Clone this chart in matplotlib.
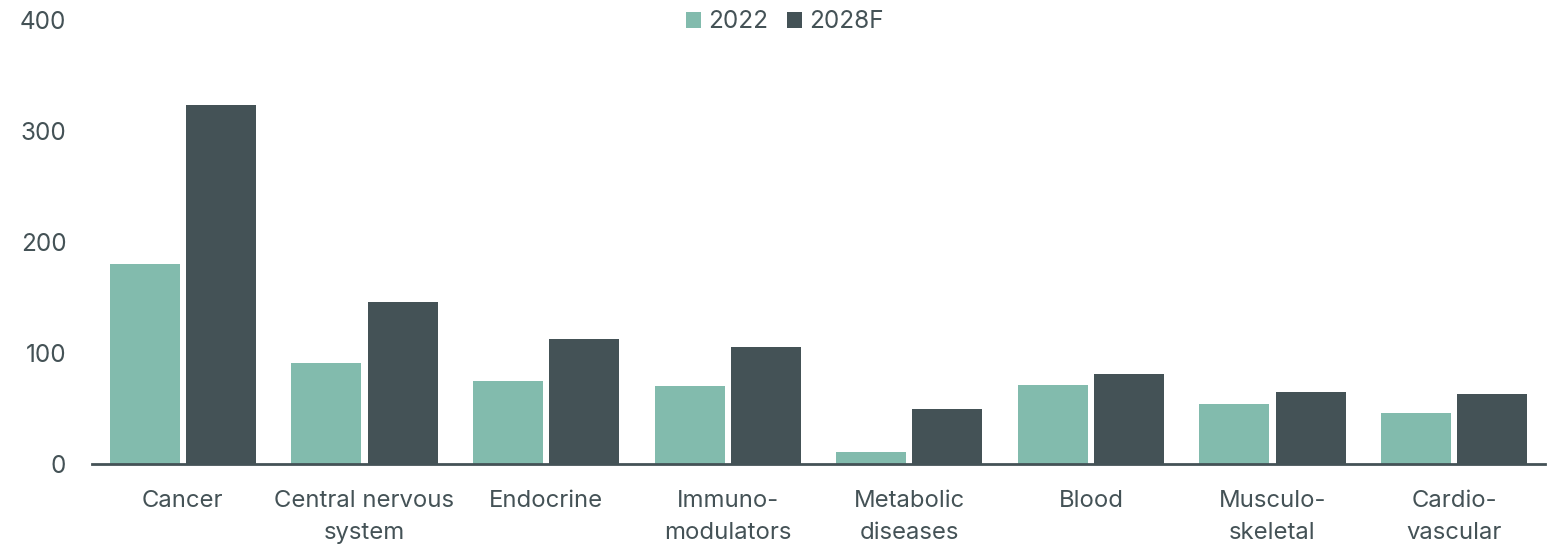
import matplotlib
matplotlib.use("Agg")
import matplotlib.pyplot as plt
import numpy as np

categories = ["Cancer", "Central nervous\nsystem", "Endocrine", "Immuno-\nmodulators",
              "Metabolic\ndiseases", "Blood", "Musculo-\nskeletal", "Cardio-\nvascular"]
series_names = ["2022", "2028F"]
values_2022 = [180, 91, 75, 70, 11, 71, 54, 46]
values_2028 = [323, 146, 113, 105, 50, 81, 65, 63]
yticks = [0, 100, 200, 300, 400]

c1 = "#82BBAD"
c2 = "#445256"
tc = "#445256"

plt.rcParams['font.family'] = ['Inter', 'DejaVu Sans']

fig = plt.figure(figsize=(15.5, 5.45), dpi=100)
ax = fig.add_axes([92/1550, 1-464/545, 1453/1550, 444/545])

x = np.arange(len(categories))
w = 0.385
ax.bar(x - 0.21, values_2022, w, color=c1, label=series_names[0])
ax.bar(x + 0.21, values_2028, w, color=c2, label=series_names[1])

ax.set_xlim(-0.5, len(categories) - 0.5)
ax.set_ylim(0, 400)
ax.set_yticks(yticks)
ax.set_yticklabels([str(v) for v in yticks], fontsize=17.5, color=tc)
ax.set_xticks(x)
ax.set_xticklabels(categories, fontsize=17.2, color=tc, linespacing=1.55)
ax.tick_params(axis='y', length=0, pad=18.5)
ax.tick_params(axis='x', length=0, pad=19)
for s in ['top', 'right', 'left']:
    ax.spines[s].set_visible(False)
ax.spines['bottom'].set_color(c2)
ax.spines['bottom'].set_linewidth(2)

leg = ax.legend(loc='center', bbox_to_anchor=(785/1550, 1-22/545), bbox_transform=fig.transFigure,
                ncol=2, frameon=False, fontsize=17.5, handlelength=0.62, handleheight=0.62,
                handletextpad=0.3, columnspacing=0.75)
for t in leg.get_texts():
    t.set_color(tc)

fig.savefig("out.png", dpi=100)
